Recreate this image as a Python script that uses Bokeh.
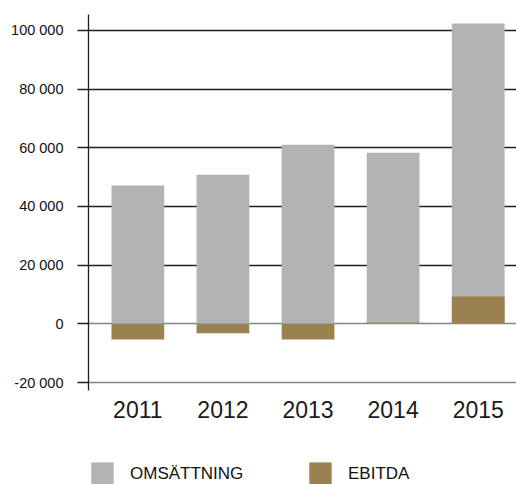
from bokeh.plotting import figure
from bokeh.layouts import column
from bokeh.models import (Range1d, FixedTicker, Grid, Legend, LegendItem,
                          ColumnDataSource)
from bokeh.embed import file_html
from bokeh.resources import INLINE

years = ["2011", "2012", "2013", "2014", "2015"]
omsattning = [47100, 50800, 61000, 58300, 102300]
ebitda = [-5300, -3200, -5300, 500, 9300]
y_ticks = [-20000, 0, 20000, 40000, 60000, 80000, 100000]
series_names = ["OMSÄTTNING", "EBITDA"]

GRAY = "#b2b3b5"
BROWN = "#9a8250"
DARK = "#231f20"
FONT = "Liberation Sans"

xs = list(range(len(years)))
src = ColumnDataSource(dict(x=xs, oms=omsattning, eb=ebitda))

p = figure(width=516, height=450, output_backend="svg", toolbar_location=None,
           x_range=Range1d(-0.58, 4.45), y_range=Range1d(-22700, 105400),
           min_border_left=88, min_border_right=0, min_border_top=14,
           min_border_bottom=60)
p.outline_line_color = None
p.xgrid.visible = False
p.ygrid.visible = False

# gridlines
g_dark = Grid(dimension=1, ticker=FixedTicker(ticks=[t for t in y_ticks if t > 0]),
              grid_line_color=DARK, grid_line_width=1.4)
g_gray = Grid(dimension=1, ticker=FixedTicker(ticks=[t for t in y_ticks if t <= 0]),
              grid_line_color="#858585", grid_line_width=1.6)
p.add_layout(g_dark)
p.add_layout(g_gray)

p.vbar(x="x", top="oms", bottom=0, width=0.62, source=src,
       fill_color=GRAY, line_color=None)
p.vbar(x="x", top="eb", bottom=0, width=0.62, source=src,
       fill_color=BROWN, line_color=None)

# y axis
ya = p.yaxis[0]
ya.ticker = FixedTicker(ticks=y_ticks)
ya.major_label_overrides = {t: f"{t:,}".replace(",", " ") for t in y_ticks}
ya.axis_line_color = DARK
ya.axis_line_width = 1.3
ya.major_tick_line_color = DARK
ya.major_tick_line_width = 1.4
ya.major_tick_in = 0
ya.major_tick_out = 11
ya.minor_tick_line_color = None
ya.major_label_standoff = 14
ya.major_label_text_font = FONT
ya.major_label_text_font_size = "14.5px"
ya.major_label_text_color = "#111111"

# x axis
xa = p.xaxis[0]
xa.ticker = FixedTicker(ticks=xs)
xa.major_label_overrides = {i: y for i, y in enumerate(years)}
xa.axis_line_color = None
xa.major_tick_line_color = None
xa.minor_tick_line_color = None
xa.major_label_standoff = 4
xa.major_label_text_font = FONT
xa.major_label_text_font_size = "23px"
xa.major_label_text_color = "#1a1a1a"

# legend strip
pl = figure(width=516, height=34, output_backend="svg", toolbar_location=None,
            x_range=Range1d(1000, 1001), y_range=Range1d(1e7, 1e7 + 1),
            x_axis_location=None, y_axis_location=None,
            min_border_left=0, min_border_right=0, min_border_top=0,
            min_border_bottom=0)
pl.outline_line_color = None
pl.xgrid.visible = False
pl.ygrid.visible = False
lr1 = pl.vbar(x="x", top="oms", width=0.62, source=src, fill_color=GRAY, line_color=None)
lr2 = pl.vbar(x="x", top="eb", width=0.62, source=src, fill_color=BROWN, line_color=None)
lr1.visible = False
lr2.visible = False

legend = Legend(items=[LegendItem(label=series_names[0], renderers=[lr1]),
                       LegendItem(label=series_names[1], renderers=[lr2])],
                location=(0, -4), orientation="horizontal",
                glyph_width=28, glyph_height=29, label_standoff=14,
                label_width=140, spacing=36, padding=0, margin=0,
                border_line_color=None, background_fill_alpha=0,
                label_text_font=FONT, label_text_font_size="17px",
                label_text_color="#111111")
pl.add_layout(legend, "center")

open("out.html", "w").write(file_html(column(p, pl, spacing=0), INLINE))
